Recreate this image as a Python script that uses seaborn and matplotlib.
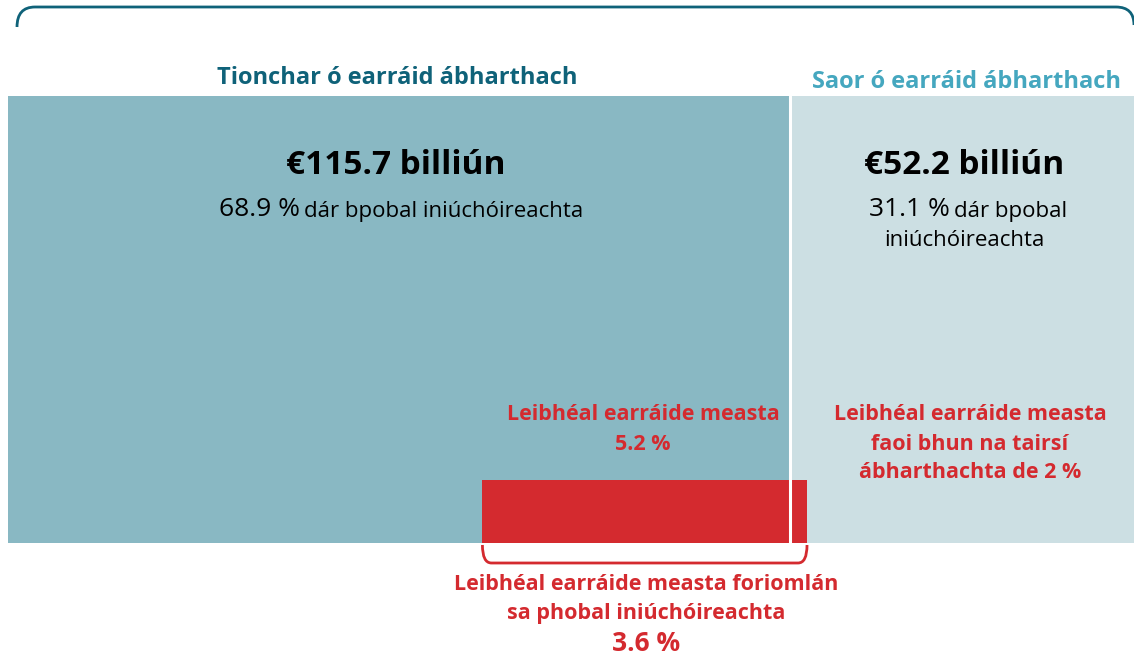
import numpy as np
import pandas as pd
import matplotlib
matplotlib.use("Agg")
import matplotlib.pyplot as plt
from matplotlib.path import Path
from matplotlib.patches import PathPatch
import seaborn as sns

# ---------------- data ----------------
categories = ["Tionchar ó earráid ábharthach", "Saor ó earráid ábharthach"]
amounts_bn = [115.7, 52.2]
shares_pct = [68.9, 31.1]
error_levels_pct = [5.2, 2.0]
overall_error_pct = 3.6
error_span = [41.8, 70.4]   # illustrative extent of the red "estimated error" band (share units)

sns.set_theme(style="white")
FONT = ["Open Sans", "DejaVu Sans"]
plt.rcParams["font.family"] = FONT

DARK = "#89B8C3"
LIGHT = "#CCDFE3"
RED = "#D42A2F"
HEAD1 = "#0F6279"
HEAD2 = "#45A7BF"

W, H = 1134, 658
fig = plt.figure(figsize=(W / 100, H / 100), dpi=100)
fig.patch.set_facecolor("white")

# main axes: pixel layout of the block area
x0, x_boundary, y_top, y_bot = 8, 790, 96, 543
px_per_unit = (x_boundary - x0) / shares_pct[0]
ax_w = 100 * px_per_unit
ax = fig.add_axes([x0 / W, (H - y_bot) / H, ax_w / W, (y_bot - y_top) / H])

cum = np.cumsum(shares_pct)
df_total = pd.DataFrame({"row": ["pop"], "share": [cum[-1]]})
df_left = pd.DataFrame({"row": ["pop"], "share": [cum[0]]})
sns.barplot(data=df_total, x="share", y="row", orient="h", color=LIGHT,
            width=1.0, saturation=1, ax=ax)
sns.barplot(data=df_left, x="share", y="row", orient="h", color=DARK,
            width=1.0, saturation=1, ax=ax)
for p in ax.patches:
    p.set_edgecolor("none")
    p.set_linewidth(0)

ax.set_xlim(0, 100)
ax.set_ylim(0.5, -0.5)
# red error band at the bottom of the blocks
band_h = (543 - 480) / (y_bot - y_top)
ax.barh(0.5 - band_h / 2, error_span[1] - error_span[0], left=error_span[0],
        height=band_h, color=RED, edgecolor="none")
# white separator
ax.axvline(cum[0], color="white", lw=2.2)
ax.axis("off")

# overlay axes in pixel coordinates for text & decorations
fx = fig.add_axes([0, 0, 1, 1], zorder=5)
fx.set_xlim(0, W)
fx.set_ylim(H, 0)
fx.axis("off")
fx.patch.set_alpha(0)

# top rounded border
r = 18
verts = [(17, 27), (17, 7), (17 + r, 7), (1116, 7), (1134, 7), (1134, 25)]
codes = [Path.MOVETO, Path.CURVE3, Path.CURVE3, Path.LINETO, Path.CURVE3, Path.CURVE3]
fx.add_patch(PathPatch(Path(verts, codes), fill=False, edgecolor=HEAD1, lw=2.0, capstyle="butt"))

# bracket under the red band, derived from the band extent
def to_px(xv):
    disp = ax.transData.transform((xv, 0))
    return fig.transFigure.inverted().transform(disp)[0] * W

bl, br = to_px(error_span[0]), to_px(error_span[1])
ytop_b, ybot_b, rr = 545, 563, 9
verts = [(bl, ytop_b), (bl, ybot_b), (bl + rr, ybot_b), (br - rr, ybot_b),
         (br, ybot_b), (br, ytop_b)]
codes = [Path.MOVETO, Path.CURVE3, Path.CURVE3, Path.LINETO, Path.CURVE3, Path.CURVE3]
fx.add_patch(PathPatch(Path(verts, codes), fill=False, edgecolor=RED, lw=2.0))

# headers
fx.text(397, 78, categories[0], ha="center", va="center", fontsize=17,
        fontweight="bold", color=HEAD1)
fx.text(966, 82, categories[1], ha="center", va="center", fontsize=17,
        fontweight="bold", color=HEAD2)

# amounts
fx.text(396, 165, f"€{amounts_bn[0]} billiún", ha="center", va="center",
        fontsize=24, fontweight="bold", color="black")
fx.text(964, 165, f"€{amounts_bn[1]} billiún", ha="center", va="center",
        fontsize=24, fontweight="bold", color="black")

# share lines (mixed sizes)
fx.text(300, 210, f"{shares_pct[0]} %", ha="right", va="center", fontsize=19, color="black")
fx.text(304, 212, "dár bpobal iniúchóireachta", ha="left", va="center", fontsize=16, color="black")
fx.text(950, 210, f"{shares_pct[1]} %", ha="right", va="center", fontsize=19, color="black")
fx.text(954, 212, "dár bpobal", ha="left", va="center", fontsize=16, color="black")
fx.text(964, 241, "iniúchóireachta", ha="center", va="center", fontsize=16, color="black")

# red labels
RS = 15.5
fx.text(643, 415, "Leibhéal earráide measta", ha="center", va="center",
        fontsize=RS, fontweight="bold", color=RED)
fx.text(643, 444, f"{error_levels_pct[0]} %", ha="center", va="center",
        fontsize=RS, fontweight="bold", color=RED)
fx.text(970, 415, "Leibhéal earráide measta", ha="center", va="center",
        fontsize=RS, fontweight="bold", color=RED)
fx.text(970, 444, "faoi bhun na tairsí", ha="center", va="center",
        fontsize=RS, fontweight="bold", color=RED)
fx.text(970, 473, f"ábharthachta de {error_levels_pct[1]:.0f} %", ha="center", va="center",
        fontsize=RS, fontweight="bold", color=RED)
fx.text(646, 585, "Leibhéal earráide measta foriomlán", ha="center", va="center",
        fontsize=RS, fontweight="bold", color=RED)
fx.text(646, 614, "sa phobal iniúchóireachta", ha="center", va="center",
        fontsize=RS, fontweight="bold", color=RED)
fx.text(646, 657, f"{overall_error_pct} %", ha="center", va="bottom",
        fontsize=19, fontweight="bold", color=RED)

fig.savefig("out.png", dpi=100)
